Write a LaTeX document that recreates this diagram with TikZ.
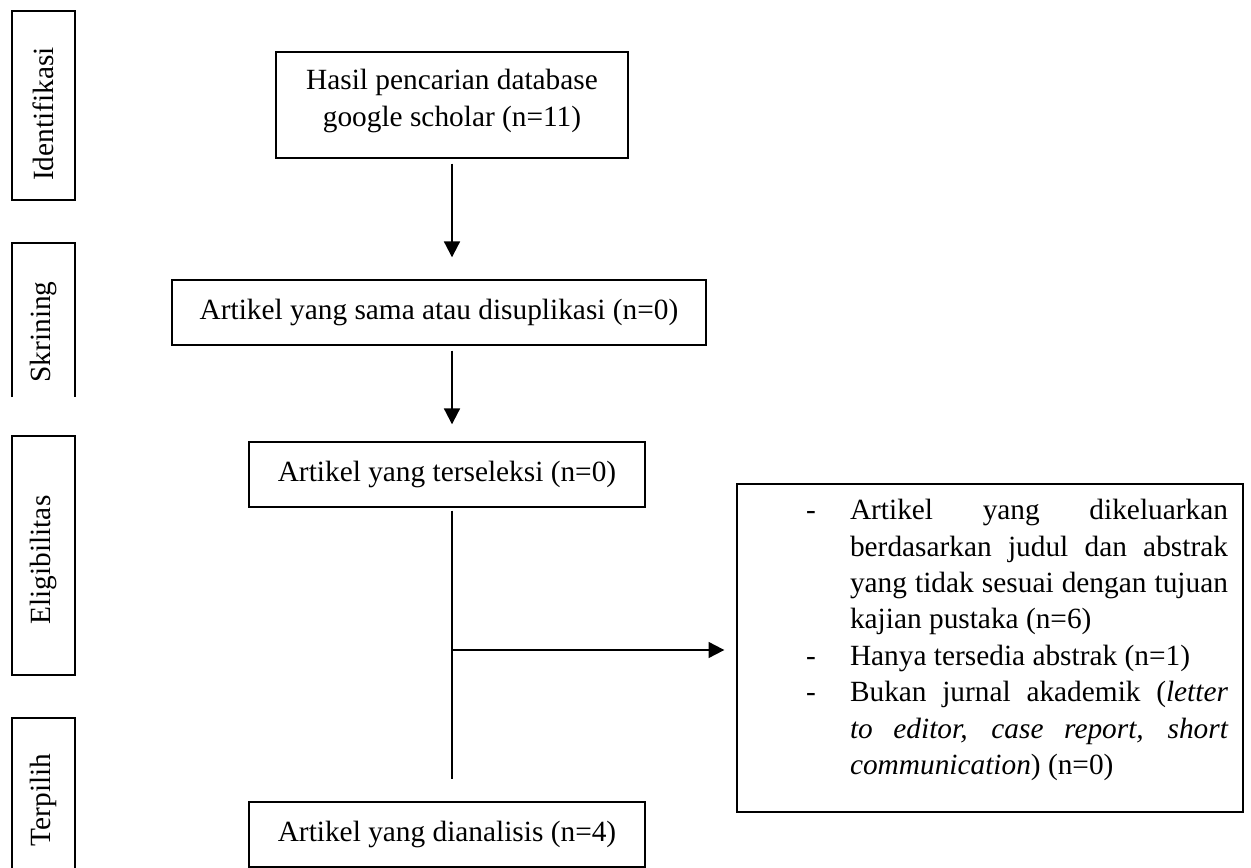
\documentclass[tikz,border=0pt]{standalone}
\usepackage{fontspec}
\setmainfont{Liberation Serif}
\usetikzlibrary{arrows.meta}
\begin{document}
\begin{tikzpicture}[x=0.02cm,y=-0.02cm,
  txt/.style={font=\fontsize{16.7}{20.7}\selectfont},
  box/.style={txt, draw, line width=0.8pt, inner sep=0pt, align=center},
  sidebox/.style={draw, line width=1.3pt, inner sep=0pt},
  sideline/.style={line width=1.3pt},
  sidetext/.style={txt, rotate=90, inner sep=0pt},
  arr/.style={line width=1.15pt, -{Triangle[length=9pt,width=9pt]}},
  stem/.style={line width=0.6pt}
]
\useasboundingbox (0,0) rectangle (1251,868);

% side labels
\node[sidebox, minimum width=1.26cm, minimum height=3.78cm] (identbox) at (43.5,105.5) {};
\node[sidetext] (ident) at (43.5,114) {Identifikasi};
\draw[sideline] (12,397) -- (12,243) -- (75,243) -- (75,397);
\node[sidetext] (skrin) at (43.5,332) {Skrining};
\node[sidebox, minimum width=1.26cm, minimum height=4.78cm] (eligbox) at (43.5,555.5) {};
\node[sidetext] (elig) at (43.5,560) {Eligibilitas};
\draw[sideline] (12,885) -- (12,718) -- (75,718) -- (75,885);
\node[sidetext] (terp) at (43.5,800) {Terpilih};

% main boxes
\node[box, minimum width=7.04cm, minimum height=2.12cm] (hasil) at (452,105)
  {Hasil pencarian database\\google scholar (n=11)\rule[-0.28cm]{0pt}{0pt}};
\node[box, minimum width=10.68cm, minimum height=1.3cm] (sama) at (439,312.5)
  {Artikel yang sama atau disuplikasi (n=0)};
\node[box, minimum width=7.92cm, minimum height=1.3cm] (sel) at (447,474.5)
  {Artikel yang terseleksi (n=0)};
\node[box, minimum width=7.92cm, minimum height=1.3cm] (anal) at (447,834.5)
  {Artikel yang dianalisis (n=4)};
\node[box, align=justify, text width=9.52cm, minimum width=10.12cm, minimum height=6.56cm] (excl) at (990,648)
  {\leftskip=1.08cm \hyphenpenalty=10000 \exhyphenpenalty=10000 \tolerance=10000
   \hangindent=0.88cm \hangafter=1 \noindent\makebox[0.88cm][l]{-}Artikel yang dikeluarkan berdasarkan judul dan abstrak yang tidak sesuai dengan tujuan kajian pustaka (n=6)\par
   \hangindent=0.88cm \hangafter=1 \noindent\makebox[0.88cm][l]{-}Hanya tersedia abstrak (n=1)\par
   \hangindent=0.88cm \hangafter=1 \noindent\makebox[0.88cm][l]{-}Bukan jurnal akademik (\textit{letter to editor, case report, short communication}) (n=0)\rule[-0.44cm]{0pt}{0pt}\par};

% connectors
\draw[arr, shorten <=0.1cm, shorten >=0.44cm] (hasil.south) -- (hasil.south |- sama.north);
\draw[arr, shorten <=0.1cm, shorten >=0.34cm] (hasil.south |- sama.south) -- (hasil.south |- sel.north);
\draw[stem, shorten <=0.06cm, shorten >=0.44cm] (hasil.south |- sel.south) -- (hasil.south |- anal.north);
\coordinate (branch) at (452,650);
\draw[arr, shorten >=0.24cm] (branch) -- (branch -| excl.west);
\end{tikzpicture}
\end{document}
